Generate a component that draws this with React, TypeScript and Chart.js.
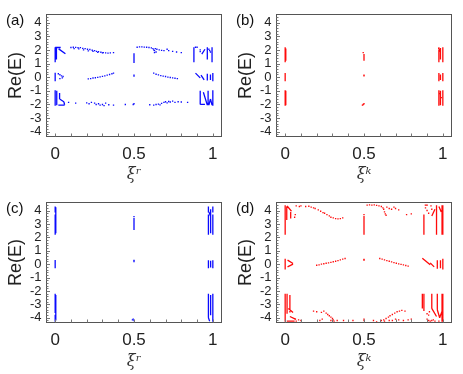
import React, { useEffect, useRef } from "react";
import { Chart, registerables } from "chart.js";
Chart.register(...registerables);

type Seg = [number, number, number, number];
type Pt = [number, number];

const xRange: [number, number] = [-0.055, 1.055];
const yRange: [number, number] = [-4.35, 4.6];
const xTickValues = [0, 0.5, 1];
const xTickLabels = ["0", "0.5", "1"];
const yTickValues = [-4, -3, -2, -1, 0, 1, 2, 3, 4];
const yTickLabels = ["-4", "-3", "-2", "-1", "0", "1", "2", "3", "4"];
const xMinorStep = 0.1;
const yMinorStep = 0.2;

// ---------- panel (a) ----------
const segsA: Seg[] = [
  [0.0, 2.2, 0.0, 1.1], [0.008, 2.15, 0.008, 1.3], [0.0, 2.18, 0.035, 2.18], [0.022, 2.08, 0.065, 1.72],
  [0.0, 0.32, 0.0, -0.3],
  [0.0, -0.95, 0.0, -2.1], [0.01, -1.0, 0.01, -2.05], [0.028, -1.15, 0.028, -1.6], [0.028, -1.6, 0.055, -1.8],
  [0.055, -1.8, 0.06, -2.02], [0.02, -2.05, 0.06, -2.05],
  [0.5, 1.75, 0.5, 1.05],
  [0.88, 2.2, 0.88, 1.1], [0.93, 1.7, 0.95, 2.05], [0.965, 2.2, 0.965, 1.3], [0.995, 2.2, 0.995, 1.1],
  [0.89, 0.3, 0.92, -0.05], [0.925, 0.15, 0.945, -0.2], [0.965, 0.25, 0.965, -0.25], [0.985, 0.2, 0.985, -0.2], [1.0, 0.3, 1.0, -0.3],
  [0.92, -1.0, 0.92, -2.0], [0.92, -2.0, 0.95, -2.0], [0.94, -1.1, 0.965, -2.05], [0.97, -1.0, 0.97, -2.05],
  [0.975, -2.05, 0.985, -1.6], [0.985, -1.6, 0.995, -2.05], [1.0, -0.95, 1.0, -2.1],
];
const dotsA: Pt[] = [
  [0.1, 2.18], [0.115, 2.2], [0.13, 2.19], [0.145, 2.16], [0.16, 2.17], [0.175, 2.12], [0.19, 2.1], [0.205, 2.05],
  [0.22, 2.03], [0.235, 1.98], [0.25, 1.95], [0.262, 1.9], [0.275, 1.88], [0.29, 1.83], [0.305, 1.8], [0.32, 1.78],
  [0.335, 1.77], [0.35, 1.78], [0.37, 1.8], [0.12, 2.1], [0.15, 2.08], [0.18, 2.0], [0.21, 1.93], [0.24, 1.9], [0.27, 1.82], [0.3, 1.78],
  [0.52, 2.2], [0.535, 2.22], [0.55, 2.22], [0.565, 2.21], [0.58, 2.2], [0.595, 2.18], [0.61, 2.15], [0.62, 2.1],
  [0.625, 2.0], [0.63, 1.95], [0.635, 2.1], [0.645, 2.05], [0.66, 2.0], [0.675, 1.97], [0.69, 1.95], [0.71, 2.05],
  [0.72, 1.95], [0.745, 1.9], [0.77, 1.85], [0.8, 1.8], [0.64, 1.85], [0.63, 1.8],
  [0.21, -0.12], [0.225, -0.1], [0.24, -0.06], [0.255, -0.04], [0.27, -0.01], [0.285, 0.02], [0.3, 0.06],
  [0.315, 0.1], [0.33, 0.15], [0.345, 0.2], [0.36, 0.25], [0.37, 0.3],
  [0.625, 0.3], [0.64, 0.22], [0.655, 0.17], [0.67, 0.12], [0.685, 0.08], [0.7, 0.05], [0.715, 0.01],
  [0.73, -0.02], [0.745, -0.05], [0.76, -0.08], [0.775, -0.1],
  [0.085, -1.85], [0.13, -1.9], [0.2, -1.88], [0.215, -1.95], [0.23, -1.85], [0.25, -1.9], [0.26, -2.0], [0.275, -1.95],
  [0.285, -2.05], [0.3, -2.0], [0.31, -2.08], [0.32, -1.9], [0.34, -2.02], [0.37, -2.05], [0.445, -2.0],
  [0.6, -2.02], [0.625, -2.05], [0.64, -2.0], [0.655, -1.98], [0.665, -2.03], [0.675, -1.92], [0.69, -1.85], [0.7, -1.8],
  [0.71, -1.88], [0.72, -1.78], [0.73, -1.82], [0.745, -1.75], [0.76, -1.85], [0.78, -1.8], [0.8, -1.82], [0.84, -1.85],
  [0.02, 0.25], [0.03, 0.18], [0.04, 0.1], [0.05, 0.05], [0.03, -0.1], [0.045, -0.05],
  [0.5, 0.15], [0.5, 0.08], [0.5, -1.95], [0.495, -2.0],
  [0.92, 2.0], [0.92, 1.88], [0.9, 2.2], [0.89, 2.2], [0.975, 2.05], [0.98, 1.95], [0.985, 1.85],
];

// ---------- panel (b) ----------
const segsB: Seg[] = [
  [0.0, 2.2, 0.0, 1.1], [0.004, 2.1, 0.004, 1.2], [0.0, 0.3, 0.0, -0.3],
  [0.0, -0.95, 0.0, -2.1], [0.004, -1.0, 0.004, -2.05],
  [0.5, 1.7, 0.5, 1.2],
  [0.975, 2.2, 0.975, 1.1], [0.985, 2.15, 0.985, 1.3], [1.0, 2.2, 1.0, 1.1], [0.972, 2.15, 0.985, 1.85],
  [0.975, 0.3, 0.975, -0.3], [0.985, 0.2, 0.985, -0.2], [1.0, 0.3, 1.0, -0.3],
  [0.975, -0.95, 0.975, -2.1], [0.985, -1.0, 0.985, -2.05], [1.0, -0.95, 1.0, -2.1],
];
const dotsB: Pt[] = [
  [0.495, 1.8], [0.5, 0.15], [0.5, 0.1], [0.49, -2.05], [0.495, -2.0], [0.5, -1.95], [0.98, -1.2], [0.99, -1.5],
];

// ---------- panel (c) ----------
const segsC: Seg[] = [
  [0.0, 4.3, 0.0, 3.85], [0.0, 3.7, 0.0, 2.2], [0.004, 4.25, 0.004, 2.3], [0.0, 0.32, 0.0, -0.3],
  [0.0, -2.2, 0.0, -3.65], [0.0, -3.78, 0.0, -4.3], [0.004, -2.3, 0.004, -4.2],
  [0.5, 3.45, 0.5, 2.55],
  [0.972, 4.3, 0.972, 3.85], [0.972, 3.7, 0.972, 2.2], [0.986, 4.1, 0.986, 2.3], [1.0, 4.3, 1.0, 3.85],
  [1.0, 3.7, 1.0, 2.2], [0.975, 3.9, 0.985, 3.6],
  [0.972, 0.3, 0.972, -0.3], [0.986, 0.25, 0.986, -0.25], [1.0, 0.3, 1.0, -0.3],
  [0.972, -2.2, 0.972, -4.0], [0.986, -2.3, 0.986, -3.8], [1.0, -2.2, 1.0, -4.3], [0.972, -4.0, 0.98, -4.25],
];
const dotsC: Pt[] = [
  [0.5, 3.55], [0.5, 0.2], [0.5, 0.28], [0.49, -4.15], [0.495, -4.1], [0.5, -4.2],
];

// ---------- panel (d) ----------
const segsD: Seg[] = [
  [0.0, 4.4, 0.0, 2.2], [0.01, 4.3, 0.01, 3.3], [0.012, 4.35, 0.04, 3.95], [0.035, 3.9, 0.035, 3.4],
  [0.0, 0.4, 0.0, -0.4], [0.015, 0.3, 0.05, 0.05], [0.015, -0.2, 0.05, 0.0],
  [0.0, -2.2, 0.0, -4.3], [0.012, -2.2, 0.012, -3.7], [0.03, -2.3, 0.03, -3.6], [0.02, -3.3, 0.05, -3.6],
  [0.03, -3.9, 0.065, -4.1], [0.01, -4.25, 0.06, -4.25],
  [0.5, 3.6, 0.5, 2.2],
  [0.88, 3.7, 0.88, 2.2], [0.885, 4.4, 0.905, 4.4], [0.93, 3.6, 0.95, 4.1], [0.96, 4.4, 0.96, 2.2],
  [0.975, 4.3, 0.99, 3.9], [0.995, 4.4, 0.995, 2.2], [1.0, 4.4, 1.0, 2.2],
  [0.87, 0.45, 0.92, -0.05], [0.92, 0.1, 0.945, -0.2], [0.965, 0.3, 0.965, -0.35], [0.985, 0.3, 0.985, -0.3], [1.0, 0.4, 1.0, -0.4],
  [0.87, -2.2, 0.87, -3.3], [0.88, -2.2, 0.88, -3.5], [0.93, -2.2, 0.93, -3.3], [0.93, -3.3, 0.96, -3.9],
  [0.965, -2.2, 0.965, -3.4], [0.965, -3.4, 0.98, -4.0], [0.995, -3.5, 0.98, -4.0], [0.995, -2.2, 0.995, -4.3], [1.0, -2.2, 1.0, -4.3],
];
const dotsD: Pt[] = [
  [0.064, 3.7], [0.06, 3.5], [0.07, 4.35], [0.09, 4.3], [0.1, 4.35], [0.13, 4.3], [0.15, 4.32], [0.165, 4.25], [0.18, 4.2],
  [0.19, 4.15], [0.21, 4.05], [0.225, 3.95], [0.24, 3.85], [0.25, 3.8], [0.265, 3.7], [0.28, 3.6], [0.29, 3.5],
  [0.305, 3.45], [0.32, 3.4], [0.335, 3.38], [0.35, 3.4], [0.365, 3.45],
  [0.52, 4.4], [0.535, 4.42], [0.55, 4.4], [0.565, 4.42], [0.58, 4.38], [0.595, 4.35], [0.61, 4.3], [0.62, 4.2],
  [0.625, 4.1], [0.63, 3.9], [0.635, 3.75], [0.64, 3.65], [0.645, 4.25], [0.66, 4.15], [0.675, 4.1], [0.69, 4.25],
  [0.7, 4.15], [0.72, 4.05], [0.77, 3.7], [0.8, 3.75], [0.5, 3.7],
  [0.2, -0.08], [0.215, -0.05], [0.23, 0.0], [0.245, 0.03], [0.26, 0.07], [0.275, 0.1], [0.29, 0.14], [0.305, 0.18],
  [0.32, 0.22], [0.335, 0.27], [0.35, 0.32], [0.365, 0.38], [0.38, 0.42],
  [0.6, 0.42], [0.615, 0.38], [0.63, 0.32], [0.645, 0.27], [0.66, 0.22], [0.675, 0.17], [0.69, 0.12], [0.705, 0.07],
  [0.72, 0.02], [0.735, -0.02], [0.75, -0.05], [0.765, -0.1], [0.78, -0.15],
  [0.5, 0.35], [0.5, 0.3], [0.5, -4.1], [0.5, -4.2],
  [0.89, 4.2], [0.9, 4.0], [0.91, 3.8], [0.925, 4.35], [0.93, 4.1],
  [0.9, -4.1], [0.91, -4.2], [0.92, -4.25], [0.93, -4.2], [0.94, -4.15], [0.95, -4.25], [0.975, -4.25],
  [0.9, -3.7], [0.915, -3.55], [0.91, -3.8],
  [0.065, -4.1], [0.07, -4.25], [0.085, -4.15], [0.1, -4.2], [0.18, -3.5], [0.2, -3.55], [0.23, -3.6], [0.245, -3.5],
  [0.26, -3.65], [0.27, -3.75], [0.28, -3.85], [0.29, -3.95], [0.3, -4.05], [0.29, -4.2], [0.305, -4.15], [0.31, -4.25],
  [0.33, -4.2], [0.22, -4.2], [0.235, -4.1], [0.37, -4.2], [0.43, -4.2],
  [0.61, -4.2], [0.625, -4.15], [0.64, -4.05], [0.655, -3.95], [0.665, -3.85], [0.68, -3.75], [0.695, -3.65],
  [0.71, -3.55], [0.725, -3.5], [0.74, -3.45], [0.76, -3.5], [0.63, -4.25], [0.66, -4.2], [0.68, -4.2], [0.7, -4.1],
  [0.72, -4.15], [0.75, -4.2], [0.78, -4.15], [0.8, -4.1], [0.56, -4.2], [0.58, -4.3],
];

const BLUE = "#0a0aff";
const RED = "#ff0a0a";

const decoPlugin = {
  id: "deco",
  afterDatasetsDraw(chart: any, _args: any, opts: any) {
    const { ctx, chartArea: a, scales } = chart;
    ctx.save();
    ctx.strokeStyle = "#555";
    ctx.lineWidth = 1;
    ctx.strokeRect(a.left, a.top, a.right - a.left, a.bottom - a.top);
    ctx.strokeStyle = "#777";
    const ny0 = Math.ceil(yRange[0] / yMinorStep);
    const ny1 = Math.floor(yRange[1] / yMinorStep);
    for (let k = ny0; k <= ny1; k++) {
      const v = k * yMinorStep;
      const py = Math.round(scales.y.getPixelForValue(v)) + 0.5;
      const major = Math.abs(v - Math.round(v)) < 1e-6;
      ctx.beginPath();
      ctx.moveTo(a.left, py);
      ctx.lineTo(a.left + (major ? 3.5 : 2), py);
      ctx.stroke();
    }
    const nx0 = Math.ceil(xRange[0] / xMinorStep);
    const nx1 = Math.floor(xRange[1] / xMinorStep);
    for (let k = nx0; k <= nx1; k++) {
      const v = k * xMinorStep;
      const px = Math.round(scales.x.getPixelForValue(v)) + 0.5;
      ctx.beginPath();
      ctx.moveTo(px, a.bottom);
      ctx.lineTo(px, a.bottom - 3);
      ctx.stroke();
    }
    ctx.fillStyle = "#111";
    ctx.font = '15px "Liberation Sans", Arial, sans-serif';
    ctx.textBaseline = "middle";
    ctx.textAlign = "left";
    ctx.fillText(opts.letter, 6, 21);
    ctx.restore();
  },
};

type PanelProps = {
  letter: string;
  xTitle: string;
  color: string;
  segs: Seg[];
  dots: Pt[];
  left: number;
  top: number;
  height: number;
  bottomEdge: number;
};

function Panel({ letter, xTitle, color, segs, dots, left, top, height, bottomEdge }: PanelProps) {
  const ref = useRef<HTMLCanvasElement | null>(null);
  useEffect(() => {
    const canvas = ref.current;
    if (!canvas) return;
    const segData: any[] = [];
    segs.forEach(([x1, y1, x2, y2]) => {
      segData.push({ x: x1, y: y1 }, { x: x2, y: y2 }, { x: x2, y: null });
    });
    const dotData = dots.map(([x, y]) => ({ x, y }));
    const chart = new Chart(canvas, {
      type: "scatter",
      data: {
        datasets: [
          {
            data: segData,
            showLine: true,
            borderColor: color,
            borderWidth: 1.3,
            pointRadius: 0,
            spanGaps: false,
          } as any,
          {
            data: dotData,
            showLine: false,
            pointStyle: "rect",
            pointRadius: 0.95,
            backgroundColor: color,
            borderWidth: 0,
          } as any,
        ],
      },
      options: {
        animation: false,
        responsive: false,
        devicePixelRatio: 1,
        events: [],
        layout: { padding: { top: 14.5, right: 9.5, left: 0, bottom: 0 } },
        plugins: {
          legend: { display: false },
          tooltip: { enabled: false },
          deco: { letter },
        } as any,
        scales: {
          x: {
            type: "linear",
            min: xRange[0],
            max: xRange[1],
            grid: { display: false, drawTicks: false },
            border: { display: false },
            afterBuildTicks: (s: any) => {
              s.ticks = xTickValues.map((v) => ({ value: v }));
            },
            afterFit: (s: any) => {
              s.height = height - bottomEdge;
            },
            ticks: {
              callback: (v: any) => xTickLabels[xTickValues.indexOf(Number(v))],
              padding: 8,
              autoSkip: false,
              maxRotation: 0,
              color: "#222",
              font: { family: '"Liberation Sans", Arial, sans-serif', size: 17 },
            },
            title: {
              display: true,
              text: xTitle,
              color: "#333",
              font: { family: '"DejaVu Serif", serif', style: "italic", size: 16 },
              padding: { top: 0, bottom: 3 },
            },
          },
          y: {
            type: "linear",
            min: yRange[0],
            max: yRange[1],
            grid: { display: false, drawTicks: false },
            border: { display: false },
            afterBuildTicks: (s: any) => {
              s.ticks = yTickValues.map((v) => ({ value: v }));
            },
            afterFit: (s: any) => {
              s.width = 46.5;
            },
            ticks: {
              callback: (v: any) => yTickLabels[yTickValues.indexOf(Number(v))],
              padding: 5,
              autoSkip: false,
              color: "#222",
              font: { family: '"Liberation Sans", Arial, sans-serif', size: 13 },
            },
            title: {
              display: true,
              text: "Re(E)",
              color: "#222",
              font: { family: '"Liberation Sans", Arial, sans-serif', size: 18 },
              padding: { top: 5, bottom: 0 },
            },
          },
        },
      },
      plugins: [decoPlugin as any],
    });
    return () => chart.destroy();
  }, [letter, xTitle, color, segs, dots, height, bottomEdge]);
  return (
    <canvas
      ref={ref}
      width={231}
      height={height}
      style={{ position: "absolute", left, top, width: 231, height }}
    />
  );
}

export default function App() {
  return (
    <div style={{ position: "absolute", left: 0, top: 0, width: 463, height: 374, background: "#fff" }}>
      <Panel letter="(a)" xTitle="ξʳ" color={BLUE} segs={segsA} dots={dotsA} left={0} top={0} height={187} bottomEdge={136.5} />
      <Panel letter="(b)" xTitle="ξᵏ" color={RED} segs={segsB} dots={dotsB} left={230} top={0} height={187} bottomEdge={136.5} />
      <Panel letter="(c)" xTitle="ξʳ" color={BLUE} segs={segsC} dots={dotsC} left={0} top={188} height={186} bottomEdge={134.5} />
      <Panel letter="(d)" xTitle="ξᵏ" color={RED} segs={segsD} dots={dotsD} left={230} top={188} height={186} bottomEdge={134.5} />
    </div>
  );
}
